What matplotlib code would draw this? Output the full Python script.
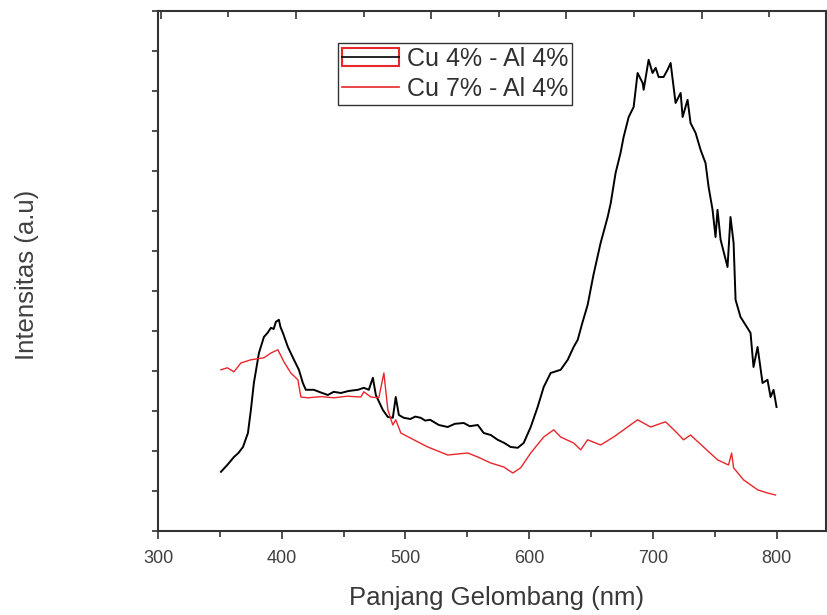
import matplotlib
matplotlib.use("Agg")
import matplotlib.pyplot as plt
from matplotlib.lines import Line2D
from matplotlib.patches import Rectangle
from matplotlib.ticker import MultipleLocator, NullFormatter

plt.rcParams['font.family'] = ['Liberation Sans', 'DejaVu Sans']

# Cu 4% - Al 4% (black)
wl_cu4 = [350.9, 356.0, 361.4, 365.0, 368.7, 372.7, 375.1, 377.5, 381.6, 385.6,
          388.5, 391.3, 393.5, 395.3, 397.7, 399.0, 401.0, 405.0, 409.9, 413.9,
          417.1, 419.5, 426.0, 431.0, 437.3, 442.0, 447.8, 454.0, 461.6, 466.4,
          470.4, 473.7, 476.1, 481.7, 485.8, 489.8, 492.2, 494.7, 498.7, 504.0,
          508.0, 512.4, 516.0, 520.0, 527.0, 534.2, 540.0, 547.2, 552.0, 558.5,
          563.3, 569.0, 574.6, 580.0, 585.1, 590.8, 595.6, 601.3, 606.9, 611.8,
          617.4, 625.5, 631.2, 636.0, 639.3, 643.0, 647.3, 652.0, 657.8, 663.5,
          666.0, 669.9, 673.9, 676.4, 680.5, 684.5, 687.7, 691.8, 692.6, 696.6,
          699.8, 702.3, 704.7, 708.7, 711.9, 714.4, 716.8, 718.4, 722.5, 724.1,
          728.1, 730.5, 734.6, 738.6, 742.6, 745.1, 748.3, 750.7, 752.3, 754.8,
          760.4, 762.8, 765.3, 766.9, 770.9, 775.0, 779.0, 781.4, 784.7, 788.7,
          792.7, 795.2, 797.6, 800.0]
int_cu4 = [1.48, 1.65, 1.85, 1.95, 2.10, 2.45, 3.03, 3.70, 4.45, 4.85,
           4.95, 5.08, 5.05, 5.23, 5.28, 5.10, 4.95, 4.60, 4.28, 4.03,
           3.70, 3.53, 3.53, 3.47, 3.40, 3.48, 3.45, 3.50, 3.53, 3.58,
           3.53, 3.83, 3.40, 3.03, 2.85, 2.83, 3.35, 2.90, 2.83, 2.80,
           2.86, 2.83, 2.76, 2.78, 2.65, 2.60, 2.68, 2.70, 2.62, 2.65,
           2.45, 2.40, 2.28, 2.20, 2.10, 2.08, 2.20, 2.60, 3.10, 3.60,
           3.95, 4.03, 4.28, 4.60, 4.78, 5.20, 5.65, 6.40, 7.20, 7.85,
           8.20, 8.95, 9.45, 9.85, 10.35, 10.60, 11.45, 11.20, 11.03, 11.78,
           11.45, 11.58, 11.35, 11.35, 11.53, 11.70, 11.10, 10.70, 10.95, 10.35,
           10.78, 10.20, 9.95, 9.53, 9.20, 8.60, 8.03, 7.35, 8.03, 7.28,
           6.60, 7.85, 7.20, 5.78, 5.35, 5.15, 4.95, 4.10, 4.60, 3.70,
           3.78, 3.35, 3.53, 3.10]

# Cu 7% - Al 4% (red)
wl_cu7 = [350.9, 356.0, 361.4, 367.0, 375.1, 385.6, 391.3, 396.9, 401.8, 407.4,
          413.1, 415.5, 421.2, 432.0, 442.2, 453.0, 464.0, 466.4, 472.1, 478.5,
          482.6, 485.8, 489.8, 492.2, 496.3, 506.8, 518.1, 534.2, 550.4, 558.5,
          569.0, 579.5, 586.8, 593.2, 601.3, 611.8, 619.9, 625.5, 636.0, 641.7,
          647.3, 657.8, 668.3, 679.6, 687.7, 698.2, 710.3, 718.0, 724.9, 730.5,
          741.0, 752.3, 761.2, 763.7, 765.3, 773.3, 784.7, 792.7, 799.2]
int_cu7 = [4.03, 4.08, 3.98, 4.20, 4.28, 4.33, 4.45, 4.53, 4.23, 3.95,
           3.78, 3.35, 3.33, 3.36, 3.33, 3.37, 3.35, 3.48, 3.35, 3.33,
           3.95, 3.03, 2.65, 2.78, 2.45, 2.28, 2.10, 1.90, 1.95, 1.85,
           1.70, 1.60, 1.45, 1.58, 1.95, 2.35, 2.53, 2.35, 2.20, 2.03,
           2.28, 2.15, 2.35, 2.60, 2.78, 2.60, 2.73, 2.50, 2.28, 2.40,
           2.10, 1.78, 1.65, 1.95, 1.58, 1.28, 1.03, 0.95, 0.90]

labels = ["Cu 4% - Al 4%", "Cu 7% - Al 4%"]

W, H = 827, 615
fig = plt.figure(figsize=(W / 100, H / 100), dpi=100)
ax = fig.add_axes([158 / W, 1 - 531 / H, (826 - 158) / W, (531 - 11) / H])

red = '#e8262b'
ax.plot(wl_cu4, int_cu4, color='black', lw=1.4)
ax.plot(wl_cu7, int_cu7, color=red, lw=1.0)

ax.set_xlim(300, 840)
ax.set_ylim(0, 13)

spine_col = '#333333'
for s in ax.spines.values():
    s.set_linewidth(1.5)
    s.set_color(spine_col)

ax.xaxis.set_major_locator(MultipleLocator(100))
ax.xaxis.set_minor_locator(MultipleLocator(50))
ax.yaxis.set_major_locator(MultipleLocator(1))
ax.yaxis.set_major_formatter(NullFormatter())
ax.tick_params(axis='x', which='major', direction='out', length=6, width=1.2,
               colors=spine_col, labelsize=13, labelcolor='#404040', pad=8, top=False)
ax.tick_params(axis='x', which='minor', direction='out', length=4, width=1.2,
               colors=spine_col, top=False)
ax.tick_params(axis='y', which='major', direction='out', length=4, width=1.2,
               colors=spine_col, right=False)

# top axis with its own (unlabelled) ticks pointing inward
top = ax.twiny()
top.set_xlim(-0.02, 4.92)
top.xaxis.set_major_locator(MultipleLocator(1))
top.xaxis.set_minor_locator(MultipleLocator(0.5))
top.xaxis.set_major_formatter(NullFormatter())
top.tick_params(axis='x', which='major', direction='in', length=6, width=1.2,
                colors=spine_col)
top.tick_params(axis='x', which='minor', direction='in', length=4, width=1.2,
                colors=spine_col)
for s in top.spines.values():
    s.set_visible(False)

ax.set_xlabel("Panjang Gelombang (nm)", fontsize=18.5, color='#383838')
ax.xaxis.set_label_coords((497 - 158) / 668, (531 - 586) / 520)
ax.set_ylabel("Intensitas (a.u)", fontsize=18.5, color='#404040')
ax.yaxis.set_label_coords((39 - 158) / 668, (531 - 275) / 520)

h1 = (Rectangle((0, 0), 1, 1, facecolor='none', edgecolor=red, lw=1.5),
      Line2D([], [], color='black', lw=1.2))
h2 = Line2D([], [], color=red, lw=1.2)
leg = ax.legend([h1, h2], labels, loc='upper left',
                bbox_to_anchor=((338 - 158) / 668, (531 - 43) / 520),
                borderaxespad=0, fontsize=18, handlelength=2.3,
                handletextpad=0.3, labelspacing=0.25, borderpad=0.15,
                fancybox=False, framealpha=1)
leg.get_frame().set_edgecolor('#333333')
leg.get_frame().set_linewidth(1.0)
for t in leg.get_texts():
    t.set_color('#303030')

fig.savefig("out.png", dpi=100)
